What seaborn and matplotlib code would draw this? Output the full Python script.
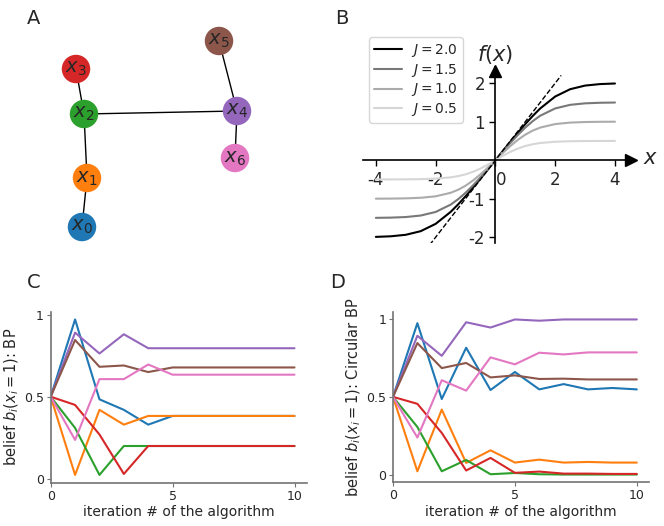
import pandas as pd
import seaborn as sns
import matplotlib.pyplot as plt

sns.set_style('ticks')
plt.rcParams['font.family'] = ['DejaVu Sans']
plt.rcParams['axes.unicode_minus'] = False

# panel A: graph
node_names = ['$x_0$', '$x_1$', '$x_2$', '$x_3$', '$x_4$', '$x_5$', '$x_6$']
node_x = [82, 87, 84, 76, 237, 219, 235]
node_y = [227, 178, 114, 69, 111, 41, 158]
edges = [(0, 1), (1, 2), (2, 3), (2, 4), (4, 5), (4, 6)]
node_colors = sns.color_palette('tab10', 7)

# panel B: f(x) curves
x_pts = [-4, -3.5, -3, -2.5, -2, -1.5, -1.25, -1, -0.75, -0.5, -0.25, 0,
         0.25, 0.5, 0.75, 1, 1.25, 1.5, 2, 2.5, 3, 3.5, 4]
f_J20 = [-1.991, -1.976, -1.937, -1.843, -1.653, -1.344, -1.150, -0.938, -0.713, -0.479, -0.241, 0,
         0.241, 0.479, 0.713, 0.938, 1.150, 1.344, 1.653, 1.843, 1.937, 1.976, 1.991]
f_J15 = [-1.497, -1.491, -1.476, -1.437, -1.344, -1.155, -1.015, -0.847, -0.655, -0.446, -0.225, 0,
         0.225, 0.446, 0.655, 0.847, 1.015, 1.155, 1.344, 1.437, 1.476, 1.491, 1.497]
f_J10 = [-0.999, -0.997, -0.991, -0.976, -0.938, -0.847, -0.769, -0.663, -0.528, -0.368, -0.189, 0,
         0.189, 0.368, 0.528, 0.663, 0.769, 0.847, 0.938, 0.976, 0.991, 0.997, 0.999]
f_J05 = [-0.500, -0.499, -0.497, -0.492, -0.479, -0.446, -0.414, -0.368, -0.302, -0.217, -0.114, 0,
         0.114, 0.217, 0.302, 0.368, 0.414, 0.446, 0.479, 0.492, 0.497, 0.499, 0.500]
J_labels = ['$J = 2.0$', '$J = 1.5$', '$J = 1.0$', '$J = 0.5$']
J_colors = ['black', '0.47', '0.67', '0.84']
diag_x = [-2.2, 2.2]
diag_y = [-2.2, 2.2]

# panels C and D: beliefs per iteration
iters = list(range(11))
bp = {
    '$x_0$': [0.5, 0.97, 0.484, 0.42, 0.33, 0.383, 0.383, 0.383, 0.383, 0.383, 0.383],
    '$x_1$': [0.5, 0.024, 0.42, 0.33, 0.383, 0.383, 0.383, 0.383, 0.383, 0.383, 0.383],
    '$x_2$': [0.5, 0.31, 0.024, 0.2, 0.2, 0.2, 0.2, 0.2, 0.2, 0.2, 0.2],
    '$x_3$': [0.5, 0.45, 0.27, 0.03, 0.2, 0.2, 0.2, 0.2, 0.2, 0.2, 0.2],
    '$x_4$': [0.5, 0.89, 0.763, 0.88, 0.795, 0.795, 0.795, 0.795, 0.795, 0.795, 0.795],
    '$x_5$': [0.5, 0.845, 0.682, 0.69, 0.65, 0.678, 0.678, 0.678, 0.678, 0.678, 0.678],
    '$x_6$': [0.5, 0.237, 0.607, 0.607, 0.696, 0.634, 0.634, 0.634, 0.634, 0.634, 0.634],
}
cbp = {
    '$x_0$': [0.5, 0.974, 0.486, 0.816, 0.544, 0.66, 0.548, 0.582, 0.548, 0.557, 0.548],
    '$x_1$': [0.5, 0.021, 0.418, 0.075, 0.156, 0.077, 0.096, 0.077, 0.081, 0.077, 0.077],
    '$x_2$': [0.5, 0.306, 0.021, 0.094, 0.002, 0.01, 0.002, 0.0, 0.0, 0.0, 0.0],
    '$x_3$': [0.5, 0.455, 0.268, 0.026, 0.107, 0.011, 0.019, 0.006, 0.006, 0.004, 0.004],
    '$x_4$': [0.5, 0.893, 0.764, 0.98, 0.946, 0.998, 0.99, 0.998, 0.998, 0.998, 0.998],
    '$x_5$': [0.5, 0.846, 0.685, 0.718, 0.625, 0.638, 0.615, 0.617, 0.612, 0.612, 0.612],
    '$x_6$': [0.5, 0.238, 0.607, 0.54, 0.754, 0.709, 0.784, 0.773, 0.786, 0.786, 0.786],
}

W, H = 664, 526
fig = plt.figure(figsize=(W / 100, H / 100), dpi=100)

# ---- A ----
axA = fig.add_axes([0, 1 - 260 / H, 330 / W, 260 / H])
for i, j in edges:
    axA.plot([node_x[i], node_x[j]], [node_y[i], node_y[j]], color='black', lw=1, zorder=1)
sns.scatterplot(x=node_x, y=node_y, hue=node_names, palette=node_colors, s=420,
                edgecolor='none', legend=False, ax=axA, zorder=2)
for name, xx, yy in zip(node_names, node_x, node_y):
    axA.text(xx, yy, name, ha='center', va='center', fontsize=14, zorder=3)
axA.set_xlim(0, 330)
axA.set_ylim(260, 0)
axA.axis('off')

# ---- B ----
axB = fig.add_axes([363 / W, 1 - 243 / H, 272 / W, 213 / H])
dfB = pd.DataFrame({
    'x': x_pts * 4,
    'f': f_J20 + f_J15 + f_J10 + f_J05,
    'J': sum([[lab] * len(x_pts) for lab in J_labels], []),
})
sns.lineplot(data=dfB, x='x', y='f', hue='J', palette=dict(zip(J_labels, J_colors)),
             lw=1.5, ax=axB)
axB.plot(diag_x, diag_y, ls='--', color='black', lw=1)
axB.set_xlim(-4.43, 4.67)
axB.set_ylim(-2.15, 3.38)
axB.spines['left'].set_position(('data', 0))
axB.spines['bottom'].set_position(('data', 0))
axB.spines['left'].set_bounds(-2.15, 2.42)
axB.spines['top'].set_visible(False)
axB.spines['right'].set_visible(False)
for sp in ['left', 'bottom']:
    axB.spines[sp].set_color('black')
    axB.spines[sp].set_linewidth(1.2)
axB.plot(4.55, 0, '>k', ms=8, clip_on=False)
axB.plot(0, 2.32, '^k', ms=8, clip_on=False)
axB.set_xticks([-4, -2, 0, 2, 4])
axB.set_xticklabels(['-4', '-2', '0', '2', '4'])
axB.set_yticks([-2, -1, 1, 2])
axB.set_yticklabels(['-2', '-1', '1', '2'])
axB.get_xticklabels()[2].set_horizontalalignment('left')
axB.tick_params(labelsize=12, color='black', width=1, length=4)
axB.set_xlabel('')
axB.set_ylabel('')
axB.text(0, 2.75, '$f(x)$', ha='center', va='center', fontsize=15)
axB.text(5.2, 0.05, '$x$', ha='center', va='center', fontsize=15, clip_on=False)
axB.legend(loc='upper left', bbox_to_anchor=(369 / W, 1 - 37 / H),
           bbox_transform=fig.transFigure, borderaxespad=0, fontsize=10,
           labelspacing=0.2, handlelength=2.0, handletextpad=0.7, borderpad=0.35)

# ---- C and D ----
def belief_panel(ax, beliefs, ylabel):
    df = pd.DataFrame({
        'iteration': iters * len(beliefs),
        'belief': sum(beliefs.values(), []),
        'node': sum([[k] * len(iters) for k in beliefs], []),
    })
    sns.lineplot(data=df, x='iteration', y='belief', hue='node',
                 palette=node_colors, lw=1.5, legend=False, ax=ax)
    ax.set_xlim(0, 10.5)
    ax.set_xticks([0, 5, 10])
    ax.set_xticklabels(['0', '5', '10'])
    ax.set_yticks([0, 0.5, 1])
    ax.set_yticklabels(['0', '0.5', '1'])
    ax.set_xlabel('iteration # of the algorithm', fontsize=10, labelpad=2)
    ax.set_ylabel(ylabel, fontsize=10.5, labelpad=2)
    sns.despine(ax=ax)
    for sp in ['left', 'bottom']:
        ax.spines[sp].set_color('0.45')
        ax.spines[sp].set_linewidth(1.2)
    ax.tick_params(labelsize=9, color='0.45', length=3, pad=2)

axC = fig.add_axes([50.7 / W, 1 - 482.7 / H, 256 / W, 171 / H])
belief_panel(axC, bp, 'belief $b_i(x_i = 1)$: BP')
axD = fig.add_axes([393 / W, 1 - 482.3 / H, 256 / W, 170.6 / H])
belief_panel(axD, cbp, 'belief $b_i(x_i = 1)$: Circular BP')

for lab, px, py in [('A', 27, 24), ('B', 335, 24), ('C', 27, 288), ('D', 330, 288)]:
    fig.text(px / W, 1 - py / H, lab, fontsize=14, va='baseline')

fig.savefig('out.png', dpi=100)
